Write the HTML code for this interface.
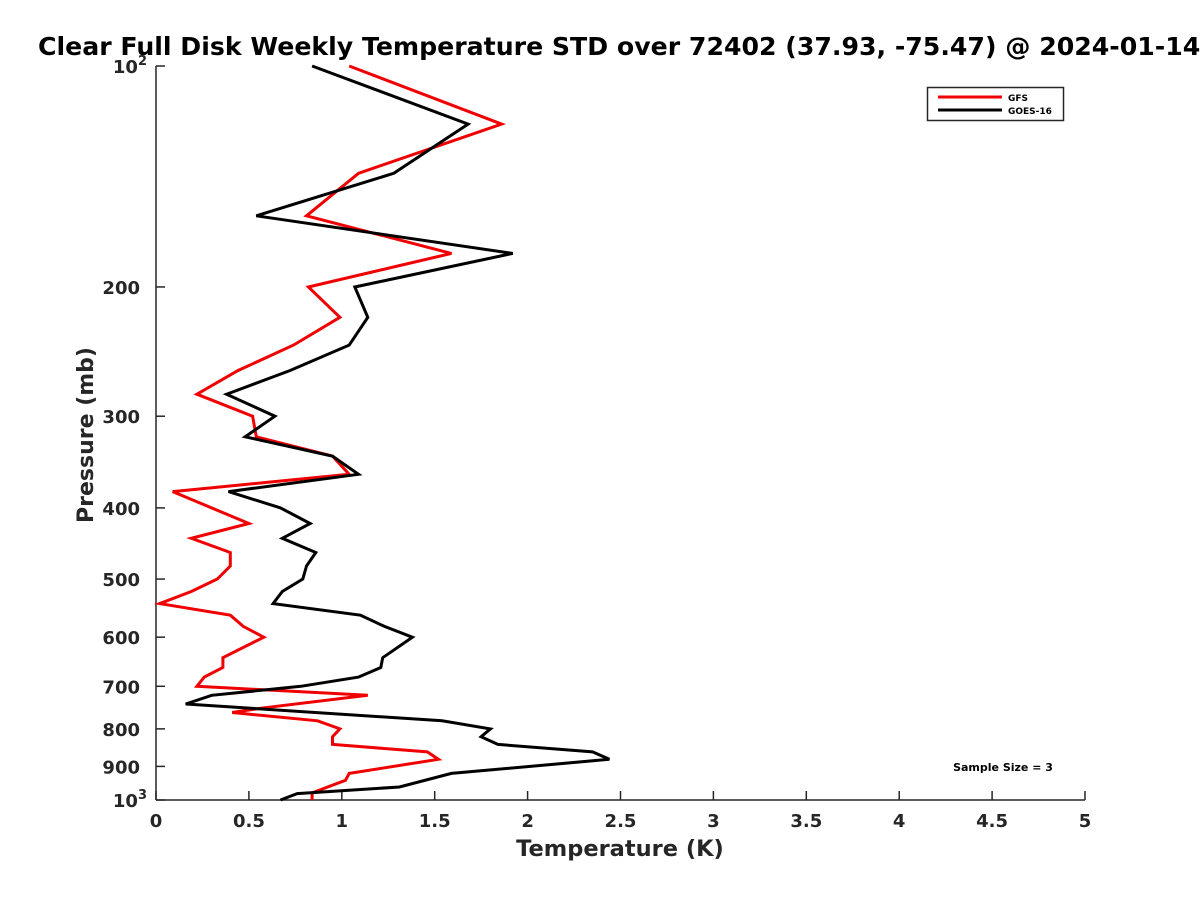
<!DOCTYPE html>
<html><head><meta charset="utf-8"><style>
body{margin:0;background:#fff;}
svg{display:block;font-family:"DejaVu Sans","Liberation Sans",sans-serif;}
</style></head><body>
<svg id="chart" width="1200" height="900">
<rect width="1200" height="900" fill="#fff"/>
<text x="38" y="55" font-size="25.2" font-weight="bold">Clear Full Disk Weekly Temperature STD over 72402 (37.93, -75.47) @ 2024-01-14</text>
<g id="axes"></g>
<g id="series"></g>
<text x="620" y="856" text-anchor="middle" font-size="22.5" font-weight="bold" fill="#262626">Temperature (K)</text>
<text transform="translate(93,435) rotate(-90)" text-anchor="middle" font-size="22" font-weight="bold" fill="#262626">Pressure (mb)</text>
<g>
<rect x="927.5" y="87.5" width="136" height="33" fill="#fff" stroke="#262626" stroke-width="1.5"/>
<line x1="938" y1="97" x2="1002" y2="97" stroke="#f00000" stroke-width="3"/>
<text x="1008" y="101" font-size="9" font-weight="bold">GFS</text>
<line x1="938" y1="110" x2="1002" y2="110" stroke="#000" stroke-width="3"/>
<text x="1008" y="114" font-size="9" font-weight="bold">GOES-16</text>
</g>
<text x="1003" y="771" text-anchor="middle" font-size="11" font-weight="bold">Sample Size = 3</text>
</svg>
<script>
const xTicks = [0,0.5,1,1.5,2,2.5,3,3.5,4,4.5,5];
const xTickLabels = ["0","0.5","1","1.5","2","2.5","3","3.5","4","4.5","5"];
const yTicks = [100,200,300,400,500,600,700,800,900,1000];
const yTickLabels = ["10^2","200","300","400","500","600","700","800","900","10^3"];
const goesPressure = [100,120,140,160,180,200,220,240,260,280,300,320,340,360,380,400,420,440,460,480,500,520,540,560,580,600,640,660,680,700,720,740,780,800,820,840,860,880,920,960,980,1000];
const goesStd = [0.84,1.68,1.28,0.54,1.92,1.07,1.14,1.04,0.72,0.38,0.64,0.48,0.95,1.09,0.39,0.67,0.83,0.68,0.86,0.81,0.79,0.68,0.63,1.10,1.23,1.38,1.22,1.21,1.09,0.78,0.30,0.16,1.54,1.80,1.75,1.84,2.35,2.44,1.59,1.31,0.76,0.67];
const gfsPressure = [100,120,140,160,180,200,220,240,260,280,300,320,340,360,380,420,440,460,480,500,520,540,560,580,600,640,660,680,700,720,750,760,780,800,820,840,860,880,920,940,978,1000];
const gfsStd = [1.04,1.86,1.09,0.81,1.59,0.82,0.99,0.74,0.44,0.22,0.52,0.54,0.95,1.04,0.09,0.50,0.19,0.40,0.40,0.33,0.19,0.02,0.40,0.47,0.58,0.36,0.36,0.26,0.22,1.14,0.56,0.41,0.87,0.99,0.95,0.95,1.46,1.52,1.04,1.02,0.84,0.84];

const X0=156,X1=1085,Y0=66,Y1=800;
const xs = t => X0 + t/5*(X1-X0);
const ys = p => Y0 + (Math.log10(p)-2)*(Y1-Y0);
const NS="http://www.w3.org/2000/svg";
function mk(tag,attrs,parent){const e=document.createElementNS(NS,tag);for(const k in attrs)e.setAttribute(k,attrs[k]);parent.appendChild(e);return e;}
const axes=document.getElementById('axes');
const ax=mk('line',{x1:X0,y1:Y1,x2:X1,y2:Y1,stroke:'#262626','stroke-width':1.5},axes);


const ay=mk('line',{x1:X0,y1:Y0,x2:X0,y2:Y1,stroke:'#262626','stroke-width':1.5},axes);


xTicks.forEach((t,i)=>{
  const x=xs(t);
  const tk=mk('line',{x1:x,y1:Y1,x2:x,y2:Y1-9,stroke:'#262626','stroke-width':1.5},axes);
  
  
  const lb=mk('text',{x:x,y:Y1+27,'text-anchor':'middle','font-size':18,'font-weight':'bold',fill:'#262626'},axes);
  lb.textContent=xTickLabels[i];
  
  
});
yTicks.forEach((p,i)=>{
  const y=ys(p);
  const tk=mk('line',{x1:X0,y1:y,x2:X0+9,y2:y,stroke:'#262626','stroke-width':1.5},axes);
  
  
  const s=yTickLabels[i];
  const lb=mk('text',{x:X0-(s.indexOf('^')>=0?9:16),y:y+7,'text-anchor':'end','font-size':18,'font-weight':'bold',fill:'#262626'},axes);
  if(s.indexOf('^')>=0){
    const [b,e]=s.split('^');
    lb.appendChild(document.createTextNode(b));
    const sp=mk('tspan',{'font-size':13,dy:-8},lb);sp.textContent=e;
  } else lb.textContent=s;
  
  
});
const ser=document.getElementById('series');
function line(P,V,color,name){
  const pts=P.map((p,i)=>xs(V[i]).toFixed(1)+','+ys(p).toFixed(1)).join(' ');
  const pl=mk('polyline',{points:pts,fill:'none',stroke:color,'stroke-width':3,'stroke-linejoin':'miter'},ser);
  
  
}
line(gfsPressure,gfsStd,'#f00000','gfs-line');
line(goesPressure,goesStd,'#000000','goes16-line');
</script>
</body></html>
